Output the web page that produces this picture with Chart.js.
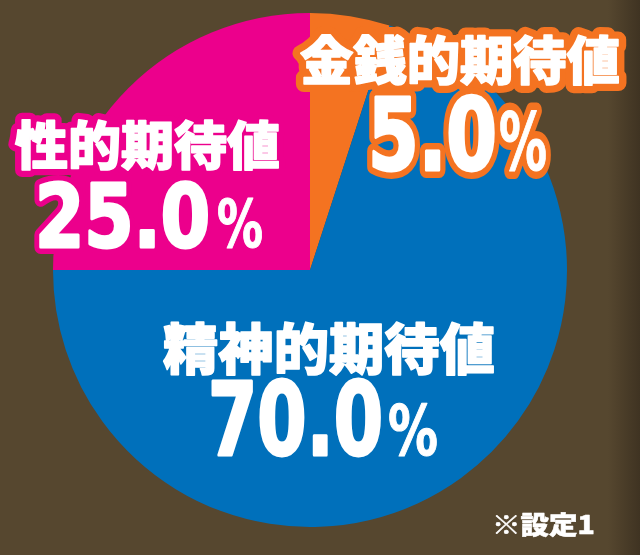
<!DOCTYPE html>
<html>
<head>
<meta charset="utf-8">
<script src="https://cdn.jsdelivr.net/npm/chart.js@4/dist/chart.umd.min.js"></script>
<style>
  html, body { margin: 0; padding: 0; }
  body {
    width: 640px; height: 555px; overflow: hidden;
    background: linear-gradient(to right, #56472f 0%, #56472f 95%, #3f3322 100%);
  }
  #wrap { position: relative; width: 640px; height: 555px; }
</style>
</head>
<body>
<div id="wrap"><canvas id="pie"></canvas></div>
<script>
// データ（時計回り、12時の位置から）
const categories = ['金銭的期待値', '精神的期待値', '性的期待値'];
const values = [5.0, 70.0, 25.0];
const sliceColors = ['#f47321', '#0070bb', '#ec008c'];
const note = '※設定1';

const CJK = '"Noto Sans CJK JP", "Noto Sans CJK SC", sans-serif';
const NUM = '"Liberation Sans Narrow", "DejaVu Sans Condensed", "Liberation Sans", sans-serif';

// ラベル配置（名前と数値）
const labelLayout = [
  { name: { x: 300, y: 60, w: 320, size: 52 },
    num: { x: 368, y: 170, w: 129, size: 100 }, pct: { x: 499, w: 48, size: 80 }, stroke: 16 },
  { name: { x: 163, y: 348, w: 332, size: 55 },
    num: { x: 208, y: 455, w: 175, size: 102 }, pct: { x: 388, w: 50, size: 70 }, stroke: 0 },
  { name: { x: 15, y: 145, w: 265, size: 52 },
    num: { x: 35, y: 247, w: 175, size: 88 }, pct: { x: 217, w: 46, size: 66 }, stroke: 14 }
];

// 幅に合わせて描く（縁取り → 白文字、太らせ用に白い線も）
function drawFit(ctx, text, x, y, w, font, baseline, strokeColor, strokeW, bold) {
  ctx.save();
  ctx.font = font;
  ctx.textBaseline = baseline;
  ctx.textAlign = 'left';
  const natural = ctx.measureText(text).width;
  ctx.translate(x, y);
  ctx.scale(w / natural, 1);
  ctx.lineJoin = 'round';
  if (strokeW > 0) {
    ctx.strokeStyle = strokeColor;
    ctx.lineWidth = strokeW;
    ctx.strokeText(text, 0, 0);
  }
  ctx.fillStyle = '#ffffff';
  ctx.fillText(text, 0, 0);
  if (bold > 0) {
    ctx.strokeStyle = '#ffffff';
    ctx.lineWidth = bold;
    ctx.strokeText(text, 0, 0);
  }
  ctx.restore();
}

const labelPlugin = {
  id: 'sliceLabels',
  afterDraw(chart) {
    const ctx = chart.ctx;
    const ds = chart.data.datasets[0];
    ds.data.forEach((v, i) => {
      const L = labelLayout[i];
      const col = ds.backgroundColor[i];
      drawFit(ctx, chart.data.labels[i], L.name.x, L.name.y, L.name.w,
        '900 ' + L.name.size + 'px ' + CJK, 'middle', col, L.stroke, 1.5);
      drawFit(ctx, v.toFixed(1), L.num.x, L.num.y, L.num.w,
        'bold ' + L.num.size + 'px ' + NUM, 'alphabetic', col, L.stroke, 3);
      drawFit(ctx, '%', L.pct.x, L.num.y, L.pct.w,
        'bold ' + L.pct.size + 'px ' + NUM, 'alphabetic', col, L.stroke, 1);
    });
    drawFit(ctx, note, 492, 524, 103, '900 25px ' + CJK, 'middle', '#000', 0, 0.5);
  }
};

new Chart(document.getElementById('pie'), {
  type: 'pie',
  data: {
    labels: categories,
    datasets: [{
      data: values,
      backgroundColor: sliceColors,
      borderWidth: 0
    }]
  },
  options: {
    responsive: true,
    maintainAspectRatio: false,
    animation: false,
    layout: { padding: { left: 0, right: 20, top: 13, bottom: 28 } },
    plugins: {
      legend: { display: false },
      tooltip: { enabled: false }
    }
  },
  plugins: [labelPlugin]
});
</script>
</body>
</html>
